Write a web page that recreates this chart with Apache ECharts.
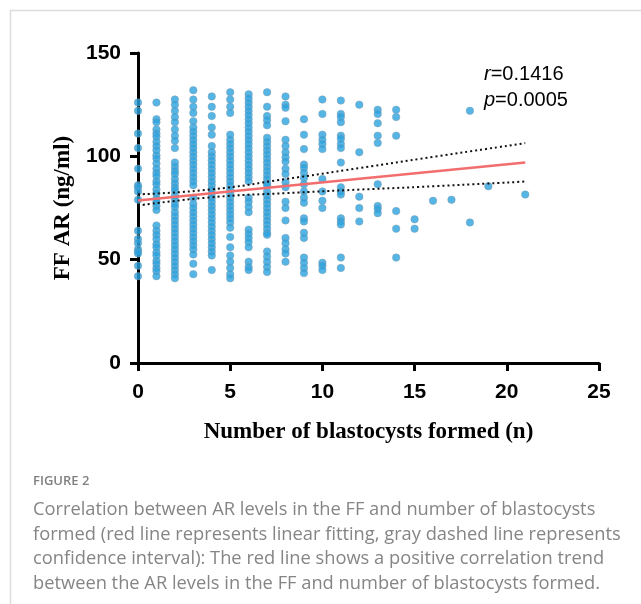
<!DOCTYPE html>
<html>
<head>
<meta charset="utf-8">
<script src="https://cdn.jsdelivr.net/npm/echarts@6/dist/echarts.min.js"></script>
<style>
  html, body { margin: 0; padding: 0; background: #fff; }
  #chart { width: 641px; height: 604px; }
</style>
</head>
<body>
<div id="chart"></div>
<script>
// number of blastocysts formed (x) and the FF AR values read for each count
const blastCounts = [0, 1, 2, 3, 4, 5, 6, 7, 8, 9, 10, 11, 12, 13, 14, 15, 16, 17, 18, 19, 21]
const arByCount = [
  [126, 122, 111, 104, 94, 86, 85, 83, 79, 64, 60, 58, 55, 54, 53, 47, 42],
  [126, 118, 116.5, 113, 111, 109.5, 107, 105, 103, 100.5, 99, 96.5, 94, 92, 90.5, 88, 86.5, 84, 82, 79.5, 78, 76, 74, 66.5, 64, 62, 60, 57.5, 56, 53.5, 52, 49.5, 48, 46, 44.5, 42],
  [127.5, 125, 122, 119, 116.5, 113, 110, 107.5, 104, 97, 95, 93, 91.5, 89, 87, 85, 83.5, 81, 79, 77, 75.5, 73, 71, 69, 67, 65, 63, 61, 59, 57, 55, 53, 51, 49, 47, 45, 43, 41],
  [132, 127.5, 124, 121, 117, 114, 112, 110, 108, 106, 104, 102, 100, 98, 96, 94, 92, 90, 88, 86, 80, 77, 75, 73, 71, 69, 67, 65, 63, 61, 59, 57, 55, 52.5, 48, 43],
  [129, 124, 119.5, 114, 110.5, 105, 102, 100, 98, 96, 94, 92, 90, 88, 86, 84, 82, 80, 78, 76, 74, 72, 70, 68, 66, 64, 62, 60, 58, 56, 54, 52, 45],
  [131, 127.5, 124, 121, 110.5, 108, 106, 104, 102, 100, 98, 96, 94, 92, 90, 88, 86, 84, 82, 80, 78, 76, 74, 72, 70, 68, 65.5, 61, 56, 52, 49, 46, 43, 41],
  [130, 128, 126, 124, 122, 120, 118, 116, 114, 112, 110, 108, 106, 104, 102, 100, 98, 96, 94, 92, 90, 88, 80, 78, 75.5, 73, 64.5, 62.5, 60.5, 58.5, 56, 49, 46.5, 45],
  [131, 124, 119.5, 117.5, 115, 109, 107, 105, 103, 101, 99, 97, 95, 93, 91, 89, 87, 86, 83, 81, 79, 77, 75, 73, 71, 69, 67, 65, 63, 62, 54, 51.5, 49, 46.5, 44],
  [129, 125, 123.5, 117, 108, 105, 102, 99.5, 97.5, 94, 91.5, 87.5, 85, 78, 75, 69, 60.5, 58, 55, 53, 49],
  [118, 110.5, 103.5, 96, 94.5, 92, 89.5, 86.5, 83, 80, 77.5, 70, 68.5, 63, 60.5, 51, 48.5, 46, 43.5],
  [127.5, 120.5, 110.5, 108, 106, 103.5, 89, 83, 78.5, 75, 48.5, 47, 45],
  [127, 120.5, 119, 116.5, 110, 108.5, 106, 104, 97, 85, 83, 81.5, 70, 68.5, 67, 51, 46],
  [125, 102, 80.5, 75, 68.5],
  [122.5, 120.5, 116, 110, 106.5, 86.5, 76, 74.5, 72.5],
  [122.5, 119, 110, 73.5, 65, 51],
  [69.5, 65],
  [78.5],
  [79],
  [122, 68],
  [85.5],
  [81.5]
]

// linear fit and its confidence band
const fitX = [0, 21]
const fitY = [78.6, 97]
const ciX = [0, 4, 8, 12, 16, 21]
const ciUpper = [81.6, 84, 89, 94.3, 99.7, 106.4]
const ciLower = [76.2, 80.2, 82.2, 83.9, 85.5, 87.8]

const xTicks = [0, 5, 10, 15, 20, 25]
const yTicks = [0, 50, 100, 150]

const points = []
blastCounts.forEach((n, i) => {
  arByCount[i].forEach(v => points.push([n, v]))
})

const chart = echarts.init(document.getElementById('chart'))
const axisFont = { color: '#000', fontSize: 21, fontWeight: 'bold', fontFamily: 'Liberation Sans, Arial, sans-serif' }
const nameFont = { color: '#000', fontSize: 23, fontWeight: 'bold', fontFamily: 'Liberation Serif, Times New Roman, serif' }
const captionFont = '18.3px "Open Sans", Lato, sans-serif'

chart.setOption({
  animation: false,
  grid: { left: 138, top: 53, right: 42, bottom: 241 },
  xAxis: {
    type: 'value',
    min: xTicks[0],
    max: xTicks[xTicks.length - 1],
    interval: 5,
    name: 'Number of blastocysts formed (n)',
    nameLocation: 'middle',
    nameGap: 58,
    nameTextStyle: nameFont,
    axisLine: { lineStyle: { color: '#000', width: 3 } },
    axisTick: { length: 8, lineStyle: { color: '#000', width: 3 } },
    axisLabel: Object.assign({ margin: 19 }, axisFont),
    splitLine: { show: false }
  },
  yAxis: {
    type: 'value',
    min: yTicks[0],
    max: yTicks[yTicks.length - 1],
    interval: 50,
    name: 'FF AR (ng/ml)',
    nameLocation: 'middle',
    nameGap: 62,
    nameRotate: 90,
    nameTextStyle: nameFont,
    axisLine: { lineStyle: { color: '#000', width: 3 } },
    axisTick: { length: 8, lineStyle: { color: '#000', width: 3 } },
    axisLabel: Object.assign({ margin: 17 }, axisFont),
    splitLine: { show: false }
  },
  series: [
    {
      type: 'scatter',
      data: points,
      symbolSize: 7.5,
      clip: false,
      itemStyle: { color: '#2aa3de', borderColor: '#7f9bb0', borderWidth: 0.6 },
      z: 3
    },
    {
      type: 'line',
      data: fitX.map((x, i) => [x, fitY[i]]),
      symbol: 'none',
      lineStyle: { color: '#f26d6d', width: 2.5 },
      z: 4
    },
    {
      type: 'line',
      data: ciX.map((x, i) => [x, ciUpper[i]]),
      symbol: 'none',
      smooth: true,
      lineStyle: { color: '#111', width: 2, type: [2, 3] },
      z: 5
    },
    {
      type: 'line',
      data: ciX.map((x, i) => [x, ciLower[i]]),
      symbol: 'none',
      smooth: true,
      lineStyle: { color: '#111', width: 2, type: [2, 3] },
      z: 5
    }
  ],
  graphic: [
    { type: 'line', shape: { x1: 10, y1: 10.5, x2: 641, y2: 10.5 }, style: { stroke: '#dcdcdc', lineWidth: 1.5 } },
    { type: 'line', shape: { x1: 10.5, y1: 10, x2: 10.5, y2: 604 }, style: { stroke: '#dcdcdc', lineWidth: 1.5 } },
    {
      type: 'text', left: 484, top: 61,
      style: {
        text: '{i|r}=0.1416\n{i|p}=0.0005',
        font: '20px "Liberation Sans", Arial, sans-serif',
        fill: '#000',
        lineHeight: 26,
        rich: { i: { fontStyle: 'italic', fontSize: 20, fontFamily: 'Liberation Sans, Arial, sans-serif' } }
      }
    },
    { type: 'text', left: 33, top: 475, style: { text: 'FIGURE 2', font: '600 13px "Open Sans", Lato, sans-serif', fill: '#808080' } },
    { type: 'text', left: 33, top: 501, style: { text: 'Correlation between AR levels in the FF and number of blastocysts', font: captionFont, fill: '#858585' } },
    { type: 'text', left: 33, top: 526, style: { text: 'formed (red line represents linear fitting, gray dashed line represents', font: captionFont, fill: '#858585' } },
    { type: 'text', left: 33, top: 550, style: { text: 'confidence interval): The red line shows a positive correlation trend', font: captionFont, fill: '#858585' } },
    { type: 'text', left: 33, top: 575, style: { text: 'between the AR levels in the FF and number of blastocysts formed.', font: captionFont, fill: '#858585' } }
  ]
})
</script>
</body>
</html>
